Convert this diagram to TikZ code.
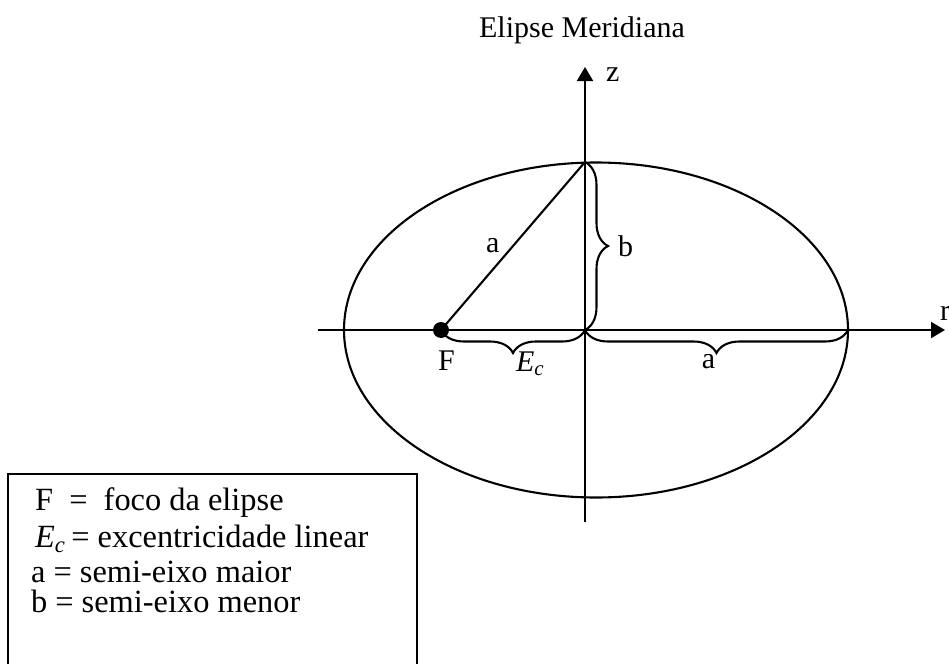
\documentclass[tikz,border=0pt]{standalone}
\usepackage{fontspec}
\setmainfont{Liberation Serif}
\usetikzlibrary{positioning,arrows.meta,decorations.pathreplacing}
\newcommand{\Ecsym}{\textit{E}\textsubscript{\textit{c}}}

\begin{document}
\begin{tikzpicture}[x=0.5pt,y=-0.5pt,>={Triangle[length=7pt,width=8pt]},line width=1.05pt,
  every node/.style={font=\fontsize{15}{18}\selectfont,inner sep=0pt},
  leg/.style={anchor=base west,font=\fontsize{16.2}{19}\selectfont},
  brc/.style={decorate,decoration={brace,amplitude=11.5pt}}]
\useasboundingbox (0,0) rectangle (949,664);
\node (title) at (582,30) {Elipse Meridiana};
% eixos
\coordinate (O) at (585,330);
\coordinate (top) at (585,162);
\coordinate (zbot) at (585,522);
\coordinate (ztip) at (585,67);
\coordinate (rleft) at (318,330);
\coordinate (rtip) at (945,330);
\coordinate (V) at (848,330);
\draw[->] (zbot) -- (ztip);
\draw[->] (rleft) -- (rtip);
\node[anchor=base west] (zlab) at (605,81) {z};
\node[anchor=base west] (rlab) at (939,320) {r};
% elipse
\draw (596,330) ellipse [x radius=252, y radius=167.5];
\node[circle,fill,minimum size=8pt] (F) at (441,330) {};
\node[anchor=base west] (Flab) at (437,370) {F};
\draw (F.center) -- (top);
\node[anchor=base west] (alab) at (485,252) {a};
\draw[brc] (top) -- (O) node[midway,anchor=base west,xshift=16pt,yshift=-5pt] (blab) {b};
\draw[brc] (O) -- (F.center) node[midway,anchor=base west,xshift=1pt,yshift=-20.5pt] (Eclab) {\Ecsym};
\draw[brc] (V) -- (O) node[midway,anchor=base,xshift=-4pt,yshift=-19pt] (a2lab) {a};
% legenda
\draw (8,474) rectangle (417,700);
\node[leg] (lF) at (34,510) {F\ \ =\ \ foco da elipse};
\node[leg] (lE) at (34,547) {\Ecsym\,= excentricidade linear};
\node[leg] (la) at (30,582) {a = semi-eixo maior};
\node[leg] (lb) at (30,612) {b = semi-eixo menor};
\end{tikzpicture}
\end{document}
